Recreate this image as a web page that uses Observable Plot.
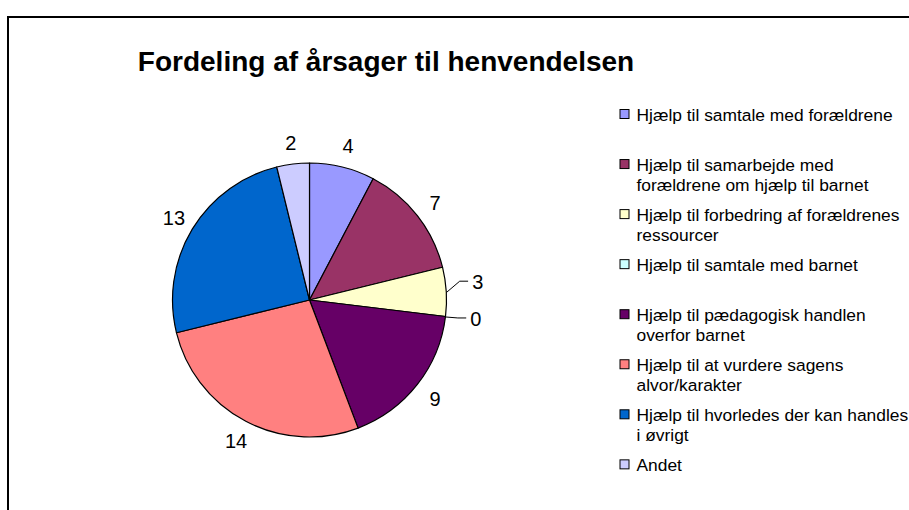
<!DOCTYPE html>
<html><head><meta charset="utf-8">
<script src="https://cdn.jsdelivr.net/npm/d3@7"></script>
<script src="https://cdn.jsdelivr.net/npm/@observablehq/plot@0.6"></script>
<style>
html,body{margin:0;padding:0;background:#fff;overflow:hidden;}
#wrap{position:relative;width:909px;height:510px;overflow:hidden;}
#border{position:absolute;left:7px;top:16px;width:1000px;height:1000px;border:2px solid #000;pointer-events:none;box-sizing:border-box;}
</style>
</head><body><div id="wrap"><div id="chart"></div><div id="border"></div></div>
<script>
const title = "Fordeling af årsager til henvendelsen";
const categories = [
  "Hjælp til samtale med forældrene",
  "Hjælp til samarbejde med forældrene om hjælp til barnet",
  "Hjælp til forbedring af forældrenes ressourcer",
  "Hjælp til samtale med barnet",
  "Hjælp til pædagogisk handlen overfor barnet",
  "Hjælp til at vurdere sagens alvor/karakter",
  "Hjælp til hvorledes der kan handles i øvrigt",
  "Andet"
];
const legendLabels = [
  "Hjælp til samtale med forældrene",
  "Hjælp til samarbejde med\nforældrene om hjælp til barnet",
  "Hjælp til forbedring af forældrenes\nressourcer",
  "Hjælp til samtale med barnet",
  "Hjælp til pædagogisk handlen\noverfor barnet",
  "Hjælp til at vurdere sagens\nalvor/karakter",
  "Hjælp til hvorledes der kan handles\ni øvrigt",
  "Andet"
];
const values = [4, 7, 3, 0, 9, 14, 13, 2];
const colors = ["#9999FF", "#993366", "#FFFFCC", "#CCFFFF", "#660066", "#FF8080", "#0066CC", "#CCCCFF"];

// ---- layout ----
const W = 909, H = 510;
const CX = 309.5, CY = 300, R = 137, RL = 159;
const FONT = "'Liberation Sans', Arial, Helvetica, sans-serif";
const labelNudge = {2: [9, -9], 3: [8, -1]}; // labels moved aside with leader lines
const LEG_X = 636, LEG_SQ_X1 = 620, LEG_SQ_X2 = 629, LEG_BASE0 = 118.5, LEG_DY = 50.05, LEG_FS = 17.4;

const rows = categories.map((category, i) => ({category, value: values[i], legend: legendLabels[i], i}));
const arcs = d3.pie().sort(null).value(d => d.value)(rows);

const labels = arcs.map(a => {
  const mid = (a.startAngle + a.endAngle) / 2;
  const n = labelNudge[a.data.i] || [0, 0];
  return {
    text: String(a.data.value),
    i: a.data.i,
    mid,
    x: CX + RL * Math.sin(mid) + n[0],
    y: CY - RL * Math.cos(mid) + n[1] + 0.8
  };
});

const leaders = [];
labels.filter(l => labelNudge[l.i]).forEach(l => {
  const ex = CX + R * Math.sin(l.mid), ey = CY - R * Math.cos(l.mid);
  const endX = l.x - 10, endY = l.y - 1.5;
  leaders.push({k: l.i, x: ex, y: ey});
  leaders.push({k: l.i, x: endX - 8, y: endY});
  leaders.push({k: l.i, x: endX, y: endY});
});

function pieMark(index, scales) {
  const {x, y, color} = scales;
  const cx = x(CX), cy = y(CY), r = x(CX + R) - x(CX);
  const arc = d3.arc().innerRadius(0).outerRadius(r);
  const g = d3.create("svg:g").attr("transform", `translate(${cx},${cy})`);
  g.selectAll("path")
    .data(arcs.filter(a => a.data.value > 0))
    .join("path")
    .attr("d", arc)
    .attr("fill", a => color(a.data.category))
    .attr("stroke", "#000")
    .attr("stroke-width", 1.2)
    .attr("stroke-linejoin", "round");
  return g.node();
}

const chart = Plot.plot({
  width: W, height: H, margin: 0,
  style: {background: "white", fontFamily: FONT, color: "#000"},
  x: {type: "linear", domain: [0, W], range: [0, W], axis: null},
  y: {type: "linear", domain: [0, H], range: [0, H], axis: null},
  color: {type: "ordinal", domain: categories, range: colors},
  marks: [
    pieMark,
    Plot.line(leaders, {x: "x", y: "y", z: "k", stroke: "#000", strokeWidth: 1}),
    Plot.text(labels, {x: "x", y: "y", text: "text", fontSize: 20, fill: "#000", fontFamily: FONT}),
    Plot.rect(rows, {
      x1: LEG_SQ_X1, x2: LEG_SQ_X2,
      y1: d => LEG_BASE0 + d.i * LEG_DY - 9,
      y2: d => LEG_BASE0 + d.i * LEG_DY,
      fill: "category", stroke: "#000", strokeWidth: 1
    }),
    Plot.text(rows, {
      x: LEG_X,
      y: d => LEG_BASE0 + d.i * LEG_DY - 0.71 * LEG_FS,
      text: "legend", textAnchor: "start", lineAnchor: "top",
      lineHeight: 20 / LEG_FS, fontSize: LEG_FS, fill: "#000", fontFamily: FONT
    }),
    Plot.text([title], {
      x: 385.5, y: 70 - 0.32 * 28, text: d => d,
      fontSize: 28, fontWeight: "bold", fill: "#000", fontFamily: FONT
    })
  ]
});
document.getElementById("chart").append(chart);
</script>
</body></html>
